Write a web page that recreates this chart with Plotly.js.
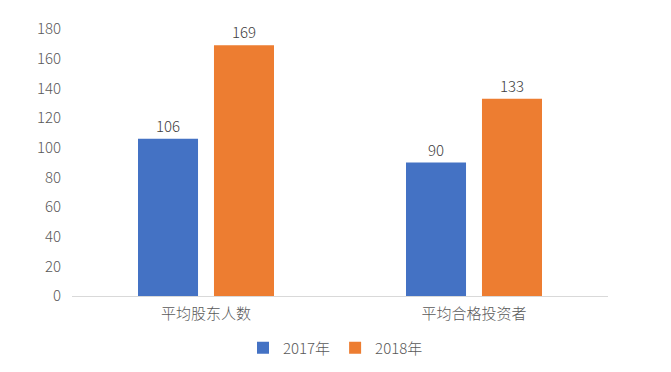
<!DOCTYPE html>
<html><head><meta charset="utf-8">
<script src="https://cdn.plot.ly/plotly-3.0.1.min.js"></script>
<style>body{margin:0;background:#fff}#c{width:671px;height:372px}</style>
</head><body><div id="c"></div>
<script>
const categories = ['平均股东人数', '平均合格投资者'];
const series2017 = [106, 90];
const series2018 = [169, 133];
const seriesNames = ['2017年', '2018年'];
const yTicks = [0, 20, 40, 60, 80, 100, 120, 140, 160, 180];

const FONT = '"Noto Sans CJK SC", "Noto Sans", sans-serif';
function mk(name, vals, color) {
  return {
    type: 'bar', name: name, x: categories, y: vals,
    marker: {color: color},
    text: vals.map(String), textposition: 'outside', cliponaxis: false,
    textfont: {family: FONT, size: 15, color: '#404040', weight: 300}
  };
}
const data = [mk(seriesNames[0], series2017, '#4472C4'), mk(seriesNames[1], series2018, '#ED7D31')];
const layout = {
  width: 671, height: 372,
  margin: {l: 72, r: 63, t: 29, b: 76, autoexpand: false},
  paper_bgcolor: '#fff', plot_bgcolor: '#fff',
  barmode: 'group', bargap: 0.433, bargroupgap: 0.21,
  font: {family: FONT, size: 15, color: '#595959', weight: 300},
  xaxis: {showgrid: false, showline: true, linecolor: '#D9D9D9', linewidth: 1, ticks: 'outside', ticklen: 4, tickcolor: 'rgba(0,0,0,0)',
          tickfont: {family: FONT, size: 15, color: '#595959', weight: 300}},
  yaxis: {range: [0, 180], tickvals: yTicks, showgrid: false, zeroline: false, showline: false,
          ticks: 'outside', ticklen: 7, tickcolor: 'rgba(0,0,0,0)',
          tickfont: {family: FONT, size: 15, color: '#595959', weight: 300}},
  showlegend: true,
  legend: {orientation: 'h', x: 0.5, xanchor: 'center', xref: 'container', y: 0.02, yanchor: 'bottom', yref: 'container',
           font: {family: FONT, size: 15, color: '#595959', weight: 300}, itemwidth: 30, traceorder: 'normal'}
};
Plotly.newPlot('c', data, layout, {staticPlot: true, displayModeBar: false});
</script></body></html>
